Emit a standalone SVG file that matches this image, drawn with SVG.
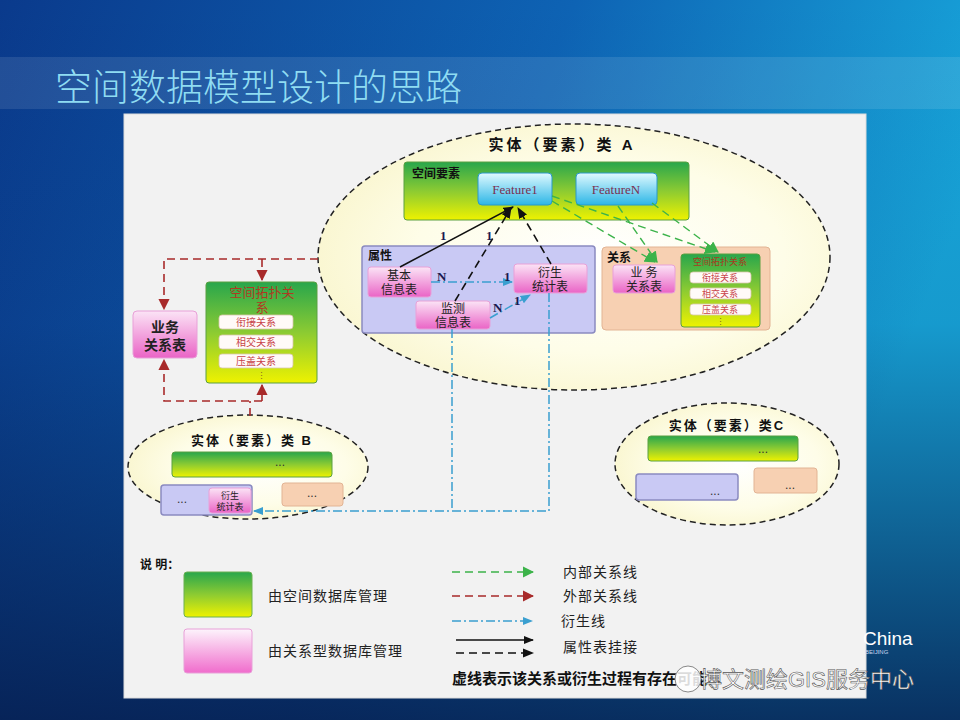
<svg xmlns="http://www.w3.org/2000/svg" width="960" height="720" viewBox="0 0 960 720">
<defs>
<linearGradient id="bgH" x1="0" y1="0" x2="1" y2="0.3">
<stop offset="0" stop-color="#0a3a8c"/><stop offset="0.55" stop-color="#0e63b4"/><stop offset="1" stop-color="#18a8dc"/>
</linearGradient>
<linearGradient id="bgV" x1="0" y1="0" x2="0" y2="1">
<stop offset="0" stop-color="#061c4c" stop-opacity="0"/><stop offset="0.45" stop-color="#061c4c" stop-opacity="0.1"/><stop offset="1" stop-color="#061c4c" stop-opacity="0.85"/>
</linearGradient>
<linearGradient id="gGreen" x1="0" y1="0" x2="0" y2="1">
<stop offset="0" stop-color="#28a64c"/><stop offset="0.5" stop-color="#8ccb32"/><stop offset="1" stop-color="#eef200"/>
</linearGradient>
<linearGradient id="gPink" x1="0" y1="0" x2="0" y2="1">
<stop offset="0" stop-color="#fbe4f6"/><stop offset="1" stop-color="#ea64c6"/>
</linearGradient>
<linearGradient id="gPinkL" x1="0" y1="0" x2="0" y2="1">
<stop offset="0" stop-color="#fdf4fc"/><stop offset="1" stop-color="#f06ccc"/>
</linearGradient>
<linearGradient id="gCyan" x1="0" y1="0" x2="0" y2="1">
<stop offset="0" stop-color="#e0faff"/><stop offset="1" stop-color="#2cb6e6"/>
</linearGradient>
<radialGradient id="gEll" cx="0.55" cy="0.5" r="0.6">
<stop offset="0" stop-color="#ffffff"/><stop offset="0.6" stop-color="#fefde8"/><stop offset="1" stop-color="#f9f5cc"/>
</radialGradient>
<marker id="aBlack" viewBox="0 0 10 10" refX="9" refY="5" markerWidth="7" markerHeight="7" orient="auto"><path d="M0,1 L10,5 L0,9 z" fill="#111"/></marker>
<marker id="aRed" viewBox="0 0 10 10" refX="9" refY="5" markerWidth="7" markerHeight="7" orient="auto"><path d="M0,0 L10,5 L0,10 z" fill="#a82a2a"/></marker>
<marker id="aGreen" viewBox="0 0 10 10" refX="9" refY="5" markerWidth="8" markerHeight="8" orient="auto"><path d="M0,0 L10,5 L0,10 z" fill="#3cb34a"/></marker>
<marker id="aBlue" viewBox="0 0 10 10" refX="9" refY="5" markerWidth="7" markerHeight="7" orient="auto"><path d="M0,1 L10,5 L0,9 z" fill="#3a9fd0"/></marker>
<style>
.sans{font-family:"Liberation Sans","Noto Sans CJK SC",sans-serif}
.serif{font-family:"Liberation Serif","Noto Sans CJK SC",serif}
.ttl{font-weight:bold;fill:#111}
.lbl{font-weight:bold;font-size:12px;fill:#111}
.pk{fill:url(#gPink);stroke:#e8a0d8;stroke-width:1}
.pkt{font-size:12px;fill:#222;text-anchor:middle}
.pkb{font-size:14px;font-weight:bold;fill:#222;text-anchor:middle}
.pks{font-size:9px;fill:#222;text-anchor:middle}
.gr{fill:url(#gGreen);stroke:#5aa040;stroke-width:1}
.pu{fill:#c9c9f4;stroke:#8a8ac0;stroke-width:1.5}
.pe{fill:#f7d0b2;stroke:#e2b494;stroke-width:1}
.wb{fill:#fffaf8;stroke:#d8c8a8;stroke-width:0.8}
.rt{fill:#c8444a;text-anchor:middle}
.ell{stroke:#222;stroke-width:1.5;stroke-dasharray:6 4;fill:url(#gEll)}
.dots{font-size:12px;fill:#333;text-anchor:middle}
.red{stroke:#a82a2a;stroke-width:1.6;stroke-dasharray:8 5;fill:none}
.grn{stroke:#3cb34a;stroke-width:1.4;stroke-dasharray:8 5;fill:none}
.blu{stroke:#3a9fd0;stroke-width:1.5;stroke-dasharray:9 3 2 3;fill:none}
.blk{stroke:#111;stroke-width:1.5;fill:none}
.blkd{stroke:#111;stroke-width:1.6;stroke-dasharray:8 5;fill:none}
.num{font-weight:bold;font-size:13px;fill:#1a1a50}
.leg{font-size:14px;fill:#222;letter-spacing:1px}
</style>
</defs>

<g id="background">
<rect x="0" y="0" width="960" height="720" fill="url(#bgH)"/>
<rect x="0" y="0" width="960" height="720" fill="url(#bgV)"/>
<rect x="0" y="57" width="960" height="52" fill="#ffffff" fill-opacity="0.1"/>
<text x="55" y="101" font-family="'Noto Sans CJK SC','Noto Sans',sans-serif" font-size="37" fill="#8fdcf2" font-weight="300">空间数据模型设计的思路</text>
<rect x="124" y="114" width="742" height="584" fill="#f2f2f2" stroke="#dcdcdc" stroke-width="1"/>
<text x="863" y="645" class="sans" font-size="19" fill="#ffffff">China</text>
<text x="865" y="654" class="sans" font-size="6" fill="#c8d8f0">BEIJING</text>
</g>

<g id="entityA">
<ellipse cx="574" cy="257" rx="256" ry="133" class="ell"/>
<text x="562" y="150" text-anchor="middle" class="sans ttl" font-size="15" letter-spacing="3">实体（要素）类 A</text>
</g>

<g id="spatialFeatures">
<rect x="404" y="162" width="285" height="58" rx="3" class="gr"/>
<text x="412" y="178" class="sans lbl">空间要素</text>
</g>
<g id="feature1">
<rect x="478" y="173" width="74" height="32" rx="4" fill="url(#gCyan)" stroke="#2a98c8"/>
<text x="515" y="194" text-anchor="middle" class="serif" font-size="13" fill="#7a3050">Feature1</text>
</g>
<g id="featureN">
<rect x="576" y="173" width="81" height="32" rx="4" fill="url(#gCyan)" stroke="#2a98c8"/>
<text x="616" y="194" text-anchor="middle" class="serif" font-size="13" fill="#7a3050">FeatureN</text>
</g>

<g id="attributes">
<rect x="362" y="246" width="233" height="87" rx="3" class="pu"/>
<text x="368" y="260" class="sans lbl">属性</text>
</g>
<g id="basicInfo">
<rect x="368" y="267" width="63" height="30" rx="3" class="pk"/>
<text x="399" y="280" class="serif pkt">基本</text>
<text x="399" y="294" class="serif pkt">信息表</text>
</g>
<g id="derivedStatsA">
<rect x="514" y="264" width="73" height="29" rx="3" class="pk"/>
<text x="550" y="277" class="serif pkt">衍生</text>
<text x="550" y="291" class="serif pkt">统计表</text>
</g>
<g id="monitorInfo">
<rect x="416" y="301" width="74" height="28" rx="3" class="pk"/>
<text x="453" y="313" class="serif pkt">监测</text>
<text x="453" y="327" class="serif pkt">信息表</text>
</g>

<g id="relations">
<rect x="602" y="247" width="168" height="83" rx="4" class="pe"/>
<text x="607" y="262" class="sans lbl">关系</text>
</g>
<g id="bizRelA">
<rect x="613" y="265" width="62" height="28" rx="3" class="pk"/>
<text x="644" y="277" class="serif pkt">业 务</text>
<text x="644" y="291" class="serif pkt">关系表</text>
</g>
<g id="topoA">
<rect x="681" y="254" width="79" height="73" rx="3" class="gr"/>
<text x="720" y="265" class="serif" font-size="9" fill="#a83a20" text-anchor="middle">空间拓扑关系</text>
<rect x="690" y="272" width="61" height="11" rx="3" class="wb"/>
<text x="720" y="281" class="serif rt" font-size="9">衔接关系</text>
<rect x="690" y="288" width="61" height="11" rx="3" class="wb"/>
<text x="720" y="297" class="serif rt" font-size="9">相交关系</text>
<rect x="690" y="304" width="61" height="11" rx="3" class="wb"/>
<text x="720" y="313" class="serif rt" font-size="9">压盖关系</text>
<text x="720" y="325" class="serif" font-size="9" fill="#8a6a20" text-anchor="middle">⋮</text>
</g>

<g id="bizRelLeft">
<rect x="133" y="311" width="64" height="47" rx="4" class="pk"/>
<text x="165" y="332" class="sans pkb">业务</text>
<text x="165" y="350" class="sans pkb">关系表</text>
</g>
<g id="topoLeft">
<rect x="206" y="282" width="111" height="101" rx="3" class="gr"/>
<text x="262" y="297" class="serif" font-size="13" fill="#b03a22" text-anchor="middle">空间拓扑关</text>
<text x="262" y="312" class="serif" font-size="13" fill="#b03a22" text-anchor="middle">系</text>
<rect x="219" y="315" width="74" height="14" rx="3" class="wb"/>
<text x="256" y="326" class="serif rt" font-size="10">衔接关系</text>
<rect x="219" y="335" width="74" height="14" rx="3" class="wb"/>
<text x="256" y="346" class="serif rt" font-size="10">相交关系</text>
<rect x="219" y="354" width="74" height="14" rx="3" class="wb"/>
<text x="256" y="365" class="serif rt" font-size="10">压盖关系</text>
<text x="261" y="379" class="serif" font-size="9" fill="#8a6a20" text-anchor="middle">⋮</text>
</g>

<g id="entityB">
<ellipse cx="248" cy="467" rx="120" ry="52" class="ell"/>
<text x="252" y="445" text-anchor="middle" class="sans ttl" font-size="13" letter-spacing="2">实体（要素）类 B</text>
<rect x="172" y="452" width="160" height="25" rx="3" class="gr"/>
<text x="280" y="466" class="dots sans">...</text>
<rect x="161" y="485" width="91" height="30" rx="3" class="pu"/>
<text x="182" y="503" class="dots sans">...</text>
<rect x="282" y="483" width="61" height="23" rx="3" class="pe"/>
<text x="312" y="497" class="dots sans">...</text>
</g>
<g id="derivedStatsB">
<rect x="209" y="488" width="42" height="25" rx="3" class="pk"/>
<text x="230" y="499" class="serif pks">衍生</text>
<text x="230" y="510" class="serif pks">统计表</text>
</g>

<g id="entityC">
<ellipse cx="727" cy="464" rx="112" ry="61" class="ell"/>
<text x="727" y="430" text-anchor="middle" class="sans ttl" font-size="13" letter-spacing="2">实体（要素）类C</text>
<rect x="648" y="436" width="150" height="25" rx="3" class="gr"/>
<text x="763" y="453" class="dots sans">...</text>
<rect x="636" y="474" width="102" height="26" rx="3" class="pu"/>
<text x="715" y="495" class="dots sans">...</text>
<rect x="754" y="468" width="63" height="25" rx="3" class="pe"/>
<text x="790" y="489" class="dots sans">...</text>
</g>

<g id="connectors">
<path class="blk" d="M400,267 L513,207" marker-end="url(#aBlack)"/>
<path class="blkd" d="M455,301 L511,208" marker-end="url(#aBlack)"/>
<path class="blkd" d="M551,264 L518,208" marker-end="url(#aBlack)"/>
<path class="blu" d="M431,282 H512" marker-end="url(#aBlue)"/>
<path class="blu" d="M490,318 L530,295" marker-end="url(#aBlue)"/>
<path class="blu" d="M452,329 V511"/>
<path class="blu" d="M549,293 V511 H254" marker-end="url(#aBlue)"/>
<path class="grn" d="M552,201 L655,262" marker-end="url(#aGreen)"/>
<path class="grn" d="M552,196 L715,252" marker-end="url(#aGreen)"/>
<path class="grn" d="M618,206 L657,262" marker-end="url(#aGreen)"/>
<path class="grn" d="M652,203 L718,252" marker-end="url(#aGreen)"/>
<path class="red" d="M318,259 H164 V309" marker-end="url(#aRed)"/>
<path class="red" d="M262,259 V280" marker-end="url(#aRed)"/>
<path class="red" d="M250,416 V401"/>
<path class="red" d="M262,401 H164 V360" marker-end="url(#aRed)"/>
<path class="red" d="M262,401 V385" marker-end="url(#aRed)"/>
<text x="440" y="240" class="serif num">1</text>
<text x="486" y="240" class="serif num">1</text>
<text x="437" y="281" class="serif num">N</text>
<text x="504" y="281" class="serif num">1</text>
<text x="493" y="312" class="serif num">N</text>
<text x="514" y="305" class="serif num">1</text>
</g>

<g id="legend">
<text x="140" y="569" class="sans lbl">说 明：</text>
<rect x="184" y="572" width="68" height="45" rx="3" fill="url(#gGreen)" stroke="#6ab050"/>
<text x="268" y="601" class="serif leg">由空间数据库管理</text>
<rect x="184" y="629" width="68" height="44" rx="3" fill="url(#gPinkL)" stroke="#e8a0d8"/>
<text x="268" y="656" class="serif leg">由关系型数据库管理</text>
<path class="grn" d="M452,572 H533" marker-end="url(#aGreen)"/>
<text x="563" y="577" class="serif leg">内部关系线</text>
<path class="red" d="M452,596 H533" marker-end="url(#aRed)"/>
<text x="563" y="601" class="serif leg">外部关系线</text>
<path class="blu" d="M452,621 H532" marker-end="url(#aBlue)"/>
<text x="561" y="626" class="serif leg">衍生线</text>
<path class="blk" d="M456,640 H533" marker-end="url(#aBlack)"/>
<path class="blkd" d="M456,653 H533" marker-end="url(#aBlack)"/>
<text x="563" y="652" class="serif leg">属性表挂接</text>
<text x="452" y="684" class="serif" font-size="15" font-weight="bold" fill="#111">虚线表示该关系或衍生过程有存在可能</text>
</g>

<g id="watermark">
<circle cx="688" cy="679" r="13" fill="#ffffff" fill-opacity="0.85" stroke="#888" stroke-width="1"/>
<text x="700" y="687" class="sans" font-size="22" fill="#ffffff" stroke="#555" stroke-width="0.6">博文测绘GIS服务中心</text>
</g>
</svg>
